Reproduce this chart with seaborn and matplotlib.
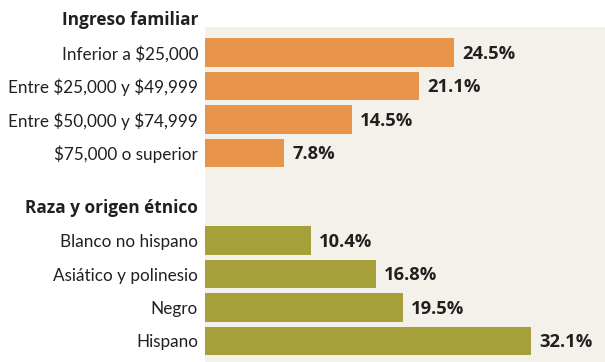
import matplotlib
matplotlib.use("Agg")
import matplotlib.pyplot as plt
import seaborn as sns
import pandas as pd
from matplotlib.patches import Rectangle

# Data
income_title = "Ingreso familiar"
income_labels = ["Inferior a $25,000", "Entre $25,000 y $49,999",
                 "Entre $50,000 y $74,999", "$75,000 o superior"]
income_values = [24.5, 21.1, 14.5, 7.8]

race_title = "Raza y origen étnico"
race_labels = ["Blanco no hispano", "Asiático y polinesio", "Negro", "Hispano"]
race_values = [10.4, 16.8, 19.5, 32.1]

ORANGE = "#E8944A"
OLIVE = "#A5A03A"
PANEL = "#F4F1EA"
INK = "#231F20"

sns.set_theme(style="white")
plt.rcParams["font.family"] = ["Lato", "DejaVu Sans"]
plt.rcParams["text.parse_math"] = False
BOLD_FAMILY = ["Open Sans", "DejaVu Sans"]

W, H = 605, 362
fig = plt.figure(figsize=(W / 100, H / 100), dpi=100)
fig.patch.set_facecolor("white")

# shaded panel behind the bars
fig.patches.append(Rectangle((205 / W, 0), 400 / W, 1 - 27 / H,
                             transform=fig.transFigure, facecolor=PANEL,
                             edgecolor="none", zorder=-10))

PX_PER_UNIT = 10.15
XMAX = 400 / PX_PER_UNIT


def make_axes(top_px, bottom_px):
    return fig.add_axes([205 / W, 1 - bottom_px / H, 400 / W,
                         (bottom_px - top_px) / H])


def draw_group(ax, labels, values, color, title):
    df = pd.DataFrame({"label": labels, "value": values})
    sns.barplot(data=df, x="value", y="label", orient="h", color=color,
                width=0.86, saturation=1, linewidth=0, ax=ax)
    ax.set_facecolor("none")
    ax.set_xlim(0, XMAX)
    ax.set_ylim(len(labels) - 0.5, -0.5)
    ax.set_xlabel("")
    ax.set_ylabel("")
    ax.set_xticks([])
    for s in ax.spines.values():
        s.set_visible(False)
    ax.tick_params(axis="y", length=0, pad=5, labelsize=12.3, labelcolor=INK)
    for i, v in enumerate(values):
        ax.text(v + 0.8, i + 0.04, f"{v:.1f}%", va="center", ha="left",
                fontsize=13.2, fontweight="bold", color=INK,
                family=BOLD_FAMILY)
    ax.text(-7 / PX_PER_UNIT, -0.98, title, ha="right", va="center",
            fontsize=12.4, fontweight="bold", color=INK, clip_on=False,
            family=BOLD_FAMILY)


ax1 = make_axes(35.75, 169.75)
draw_group(ax1, income_labels, income_values, ORANGE, income_title)

ax2 = make_axes(223.75, 357.75)
draw_group(ax2, race_labels, race_values, OLIVE, race_title)

fig.savefig("out.png", dpi=100)
